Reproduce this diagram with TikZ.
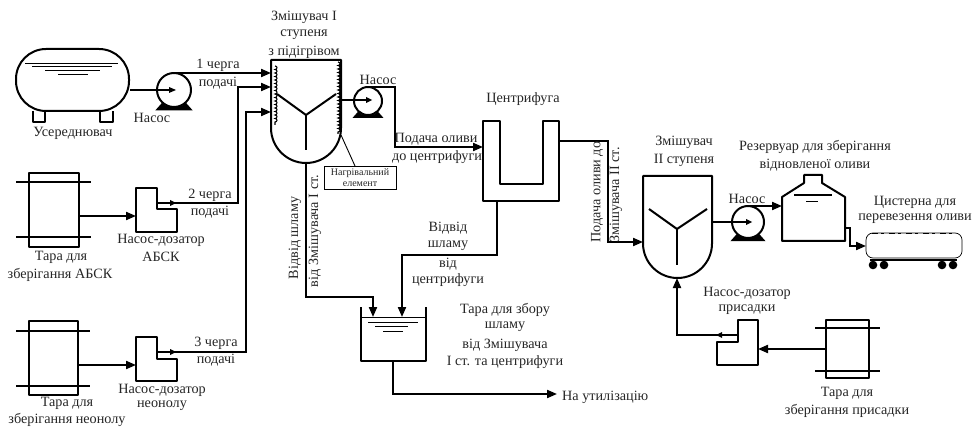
\documentclass[tikz,border=0pt]{standalone}
\usepackage{fontspec}
\setmainfont{Liberation Serif}
\usetikzlibrary{arrows.meta,decorations.pathmorphing,calc}
\tikzset{
  eq/.style={draw=black,line width=2pt,line join=round},
  pipe/.style={draw=black,line width=2pt,line join=miter},
  flow/.style={pipe,-{Triangle[length=10pt,width=8pt]}},
  thinl/.style={draw=black,line width=0.9pt},
  liquid/.style={draw=black,line width=0.9pt},
  lab/.style={font=\fontsize{14.2}{15}\selectfont,inner sep=0pt,text=black!85},
  vlab/.style={lab,rotate=90},
  tara/.style={eq,rectangle,inner sep=0pt},
  pumpc/.style={eq,circle,inner sep=0pt},
  heat/.style={draw=black,line width=1.1pt,decorate,decoration={bumps,segment length=7pt,amplitude=2pt}}
}
\newcommand{\pumpfeet}[3]{% cx, cy, r
  \fill[black] (#1-0.7*#3,#2+0.75*#3) -- (#1-1.1*#3,#2+1.2*#3) -- (#1+1.1*#3,#2+1.2*#3) -- (#1+0.7*#3,#2+0.75*#3) -- (#1+0.45*#3,#2+0.95*#3) -- (#1-0.45*#3,#2+0.95*#3) -- cycle;
}
\newcommand{\midtip}[3]{% x y dir
  \fill[black,shift={(#1,#2)},rotate=#3] (3,0) -- (-3,-3) -- (-3,3) -- cycle;
}
\begin{document}
\begin{tikzpicture}[x=1pt,y=-1pt]
\useasboundingbox (0,0) rectangle (973,427);
\fill[white] (0,0) rectangle (973,427);

% Tank Usrednyuvach
\node[eq,rectangle,rounded corners=30pt,minimum width=113pt,minimum height=62pt,inner sep=0pt] (avg) at (72.5,80) {};
\draw[eq] (33,111) -- (33,122) -- (45,122) -- (45,111);
\draw[eq] (100,111) -- (100,122) -- (113,122) -- (113,111);
\draw[liquid] (25,63) -- (118,63);
\draw[liquid] (32,66.5) -- (112,66.5);
\draw[liquid] (45,70) -- (100,70);
\draw[liquid] (58,74) -- (88,74);

% pump 1
\node[pumpc,minimum size=34pt] (p1) at (174,90) {};
\pumpfeet{174}{90}{17}
\coordinate (p1c) at (174,90);
\coordinate (p1o) at (174,73);

% Tara 1
\node[tara,minimum width=50pt,minimum height=74pt] (t1) at (54,210) {};
\coordinate (t1a) at (16,182); \coordinate (t1b) at (91,182);
\coordinate (t1c) at (16,237); \coordinate (t1d) at (91,237);
\draw[pipe] (t1a) -- (t1b); \draw[pipe] (t1c) -- (t1d);
% Doser 1
\draw[eq] (136,188) -- (157,188) -- (157,209) -- (177,209) -- (177,232) -- (136,232) -- cycle;
\coordinate (d1i) at (136,216);
\coordinate (d1o) at (157,203);
\coordinate (t1o) at (79,216);

% Tara 2
\node[tara,minimum width=49pt,minimum height=74pt] (t2) at (53.5,358) {};
\coordinate (t2a) at (16,331); \coordinate (t2b) at (90,331);
\coordinate (t2c) at (16,386); \coordinate (t2d) at (90,386);
\draw[pipe] (t2a) -- (t2b); \draw[pipe] (t2c) -- (t2d);
\draw[eq] (136,337) -- (157,337) -- (157,359) -- (177,359) -- (177,381) -- (136,381) -- cycle;
\coordinate (d2i) at (136,365);
\coordinate (d2o) at (157,352);
\coordinate (t2o) at (78,365);

% Mixer I
\coordinate (m1in1) at (271,74);
\coordinate (m1in2) at (271,87);
\coordinate (m1in3) at (271,112);
\coordinate (m1o) at (306,163);
\coordinate (m1r) at (341,100);
\draw[eq] (271,60) -- (341,60) -- (341,128) .. controls (341,147.3) and (325.3,163) .. (306,163) .. controls (286.7,163) and (271,147.3) .. (271,128) -- cycle;
\draw[eq] (277,94) -- (306,115) -- (336,94);
\draw[eq] (306,115) -- (306,150);
\draw[heat] (275,66) -- (275,125);
\draw[heat] (338,62) -- (338,134);

% pump 2
\node[pumpc,minimum size=28pt] (p2) at (368,101) {};
\pumpfeet{368}{101}{14}
\coordinate (p2c) at (368,100);
\coordinate (p2o) at (368,87);

% heater label
\node[thinl,rectangle,minimum width=72pt,minimum height=23pt,inner sep=0pt,align=center,font=\fontsize{10}{11}\selectfont,text=black!85] (he) at (360,177.5) {Нагрівальний\\елемент};
\coordinate (hl) at (341,135);
\coordinate (hl2) at (355,166);
\draw[thinl] (hl) -- (hl2);

% Centrifuge
\draw[eq] (483,121) -- (500,121) -- (500,184) -- (543,184) -- (543,121) -- (559,121) -- (559,201) -- (483,201) -- cycle;
\coordinate (ci) at (483,147);
\coordinate (co) at (559,141);
\coordinate (cb) at (497,201);

% Waste tank
\draw[eq] (361,307) -- (361,361) -- (426,361) -- (426,307);
\draw[liquid] (361,317) -- (426,317);
\draw[liquid] (368,322) -- (418,322);
\draw[liquid] (375,326) -- (408,326);
\draw[liquid] (383,331) -- (403,331);
\coordinate (wi1) at (373,317);
\coordinate (wi2) at (402,317);
\coordinate (wo) at (393,361);
\coordinate (wend) at (557,394);

% Mixer II
\coordinate (m2in) at (643,242);
\coordinate (m2b) at (677,278);
\coordinate (m2r) at (712,222);
\draw[eq] (643,176) -- (712,176) -- (712,243.5) .. controls (712,262.5) and (696.5,278) .. (677.5,278) .. controls (658.5,278) and (643,262.5) .. (643,243.5) -- cycle;
\draw[eq] (649,209) -- (677,229) -- (707,209);
\draw[eq] (677,229) -- (677,265);

% pump 3
\node[pumpc,minimum size=32pt] (p3) at (748,222) {};
\pumpfeet{748}{222}{16}
\coordinate (p3c) at (748,222);
\coordinate (p3o) at (748,206);

% Reservoir
\draw[eq] (782,197) -- (804,183) -- (804,175) -- (822,175) -- (822,183) -- (845,197) -- (845,241) -- (782,241) -- cycle;
\draw[draw=black,line width=1.3pt] (794,195) -- (832,195);
\draw[liquid] (806,201) -- (818,201);
\coordinate (ri) at (782,206);
\coordinate (ro) at (845,228);

% Tanker
\node[draw=black,line width=0.7pt,rectangle,rounded corners=7pt,minimum width=96pt,minimum height=25pt,inner sep=0pt] (tk) at (914,245.5) {};
\draw[draw=black,line width=1.4pt,dash pattern=on 6pt off 3pt on 3pt off 5pt] (872,233.5) -- (958,233.5);
\draw[draw=black,line width=2pt] (870,260) -- (957,260);
\foreach \wx in {873,884,942,953} \fill[black] (\wx,265) circle (4.3pt);
\coordinate (tki) at (866,246);

% Doser 3
\draw[eq] (758,320) -- (738,320) -- (738,342) -- (717,342) -- (717,365) -- (758,365) -- cycle;
\coordinate (d3o) at (738,335);
\coordinate (d3i) at (758,349);
% Tara 3
\node[tara,minimum width=43pt,minimum height=58pt] (t3) at (847.5,349) {};
\coordinate (t3a) at (815,328); \coordinate (t3b) at (880,328);
\coordinate (t3c) at (815,371); \coordinate (t3d) at (880,371);
\draw[pipe] (t3a) -- (t3b); \draw[pipe] (t3c) -- (t3d);
\coordinate (t3o) at (826,349);

% connectors
\draw[pipe] (avg.east |- p1c) -- (p1c);
\fill[black] (p1c) ++(-5,-3) -- ++(7,3) -- ++(-7,3) -- cycle;
\draw[flow] (p1o) -- (m1in1 |- p1o);
\coordinate (j2) at (238,87);
\draw[flow] (d1o) -| (j2) -- (m1in2);
\coordinate (j3) at (246,112);
\draw[flow] (d2o) -| (j3) -- (m1in3);
\draw[flow] (t1o) -- (d1i);
\draw[flow] (t2o) -- (d2i);
\midtip{173}{203}{0}
\midtip{173}{352}{0}
\draw[pipe] (m1r) -- (p2c);
\fill[black] (p2c) ++(-2,-3) -- ++(6,3) -- ++(-6,3) -- cycle;
\coordinate (j4) at (395,87);
\draw[flow] (p2o) -- (j4) -- (j4 |- ci) -- (ci);
\coordinate (j5) at (608,141);
\draw[flow] (co) -- (j5) -- (j5 |- m2in) -- (m2in);
\coordinate (j6) at (306,297);
\draw[flow] (m1o) -- (j6) -| (wi1);
\coordinate (j7) at (497,255);
\draw[flow] (cb) -- (j7) -| (wi2);
\coordinate (j8) at (393,394);
\draw[flow] (wo) -- (j8) -- (wend);
\draw[pipe] (m2r) -- (p3c);
\fill[black] (p3c) ++(-2,-3) -- ++(6,3) -- ++(-6,3) -- cycle;
\draw[flow] (p3o) -- (ri);
\coordinate (j9) at (850,228);
\coordinate (j10) at (850,246);
\draw[flow] (ro) -- (j9) -- (j10) -- (tki);
\draw[flow] (t3o) -- (d3i);
\coordinate (j11) at (677,335);
\draw[flow] (d3o) -- (j11) -- (m2b);
\midtip{719}{335}{180}

% labels
\node[lab] (l1) at (73,133) {Усереднювач};
\node[lab] (l2) at (152,118) {Насос};
\node[lab] (l3) at (218,65) {1 черга};
\node[lab] (l4) at (218,83) {подачі};
\node[lab] (l5) at (210,195) {2 черга};
\node[lab] (l6) at (210,212) {подачі};
\node[lab] (l7) at (216,343) {3 черга};
\node[lab] (l8) at (216,360) {подачі};
\node[lab] (l9) at (61,257) {Тара для};
\node[lab] (l10) at (60,275) {зберігання АБСК};
\node[lab] (l11) at (161,240) {Насос-дозатор};
\node[lab] (l12) at (161,257) {АБСК};
\node[lab] (l13) at (67,403) {Тара для};
\node[lab] (l14) at (67,420) {зберігання неонолу};
\node[lab] (l15) at (162,390) {Насос-дозатор};
\node[lab] (l16) at (162,406) {неонолу};
\node[lab] (l17) at (304,17) {Змішувач I};
\node[lab] (l18) at (304,35) {ступеня};
\node[lab] (l19) at (304,52) {з підігрівом};
\node[lab] (l20) at (378,80) {Насос};
\node[lab] (l21) at (523,99) {Центрифуга};
\node[lab] (l22) at (436,139) {Подача оливи};
\node[lab] (l23) at (437,157) {до центрифуги};
\node[lab] (l24) at (448,228) {Відвід};
\node[lab] (l25) at (448,246) {шламу};
\node[lab] (l26) at (448,264) {від};
\node[lab] (l27) at (448,280) {центрифуги};
\node[lab] (l28) at (505,310) {Тара для збору};
\node[lab] (l29) at (505,327) {шламу};
\node[lab] (l30) at (505,345) {від Змішувача};
\node[lab] (l31) at (505,362) {І ст. та центрифуги};
\node[lab,anchor=west] (l32) at (562,397) {На утилізацію};
\node[lab] (l33) at (684,142) {Змішувач};
\node[lab] (l34) at (684,160) {II ступеня};
\node[lab] (l35) at (815,147) {Резервуар для зберігання};
\node[lab] (l36) at (815,165) {відновленої оливи};
\node[lab] (l37) at (747,199) {Насос};
\node[lab] (l38) at (915,202) {Цистерна для};
\node[lab] (l39) at (915,219) {перевезення оливи};
\node[lab] (l40) at (747,293) {Насос-дозатор};
\node[lab] (l41) at (747,310) {присадки};
\node[lab] (l42) at (847,393) {Тара для};
\node[lab] (l43) at (847,411) {зберігання присадки};
\node[vlab] (l44) at (295,238) {Відвід шламу};
\node[vlab] (l45) at (315,231) {від Змішувача I ст.};
\node[vlab] (l46) at (597,192) {Подача оливи до};
\node[vlab] (l47) at (616,195) {Змішувача II ст.};
\end{tikzpicture}
\end{document}
